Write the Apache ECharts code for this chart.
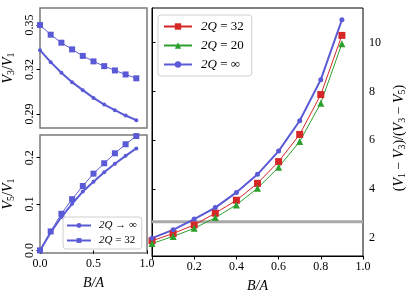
<!DOCTYPE html>
<html><head><meta charset="utf-8">
<script src="https://cdn.jsdelivr.net/npm/echarts@6/dist/echarts.min.js"></script>
<style>html,body{margin:0;padding:0;background:#fff}#c{width:415px;height:298px}</style>
</head><body><div id="c"></div>
<script>
const xs = [0.0, 0.1, 0.2, 0.3, 0.4, 0.5, 0.6, 0.7, 0.8, 0.9];
// main panel: (V1-V3)/(V3-V5)
const ratio32 = [1.89, 2.19, 2.54, 3.02, 3.55, 4.24, 5.13, 6.24, 7.87, 10.29];
const ratio20 = [1.78, 2.07, 2.40, 2.84, 3.36, 4.04, 4.90, 5.95, 7.52, 9.95];
const ratioInf = [2.00, 2.34, 2.78, 3.25, 3.87, 4.61, 5.56, 6.80, 8.48, 10.93];
const refLevel = 2.67;
// top inset: V3/V1
const v3Inf = [0.3331, 0.3250, 0.3178, 0.3115, 0.3061, 0.3009, 0.2964, 0.2926, 0.2890, 0.2859];
const v3Q32 = [0.3500, 0.3435, 0.3381, 0.3336, 0.3292, 0.3255, 0.3223, 0.3194, 0.3167, 0.3141];
// bottom inset: V5/V1
const v5Inf = [0.000, 0.0387, 0.072, 0.1004, 0.127, 0.148, 0.1686, 0.187, 0.204, 0.220];
const v5Q32 = [0.000, 0.041, 0.079, 0.1105, 0.139, 0.1656, 0.188, 0.2095, 0.229, 0.2467];
// ticks
const mainXTicks = [0, 0.2, 0.4, 0.6, 0.8, 1.0];
const mainXLabels = [0.2, 0.4, 0.6, 0.8, 1.0];
const mainYTicks = [2, 4, 6, 8, 10];
const topYTicks = [0.29, 0.32, 0.35];
const botYTicks = [0.0, 0.1, 0.2];
const botXTicks = [0.0, 0.5, 1.0];
const legendMain = {m32: '{i|2Q} = 32', m20: '{i|2Q} = 20', minf: '{i|2Q} = ∞'};
const legendInset = {iinf: '{i|2Q} → ∞', i32: '{i|2Q} = 32'};
const nameV3 = '{v|V}{s|3}{u|/}{v|V}{s|1}';
const nameV5 = '{v|V}{s|5}{u|/}{v|V}{s|1}';
const nameRatio = '{u|(}{v|V}{s|1}{u| − }{v|V}{s|3}{u|)/(}{v|V}{s|3}{u| − }{v|V}{s|5}{u|)}';

const F = 'Liberation Serif';
const pairs = ys => xs.map((x, i) => [x, ys[i]]);
const red = '#d62728', green = '#2ca02c', blue = '#5a5ad6';
const insetBorder = '#7a7a7a';
const nameRich = (fs) => ({
  v: {fontFamily: F, fontSize: fs, fontStyle: 'italic', color: '#000'},
  u: {fontFamily: F, fontSize: fs, color: '#000'},
  s: {fontFamily: F, fontSize: Math.round(fs * 0.7), color: '#000', padding: [6, 0, 0, 0]}
});

const chart = echarts.init(document.getElementById('c'), null, {renderer: 'canvas'});
const tickLbl = {fontFamily: F, fontSize: 12, color: '#000'};
chart.setOption({
  animation: false,
  grid: [
    {left: 152, top: 8, width: 220, height: 249, show: true, borderColor: '#000', borderWidth: 1},
    {left: 40, top: 8, width: 107, height: 120, show: true, borderColor: insetBorder, borderWidth: 1.5},
    {left: 40, top: 135, width: 107, height: 118, show: true, borderColor: insetBorder, borderWidth: 1.5}
  ],
  xAxis: [
    {gridIndex: 0, type: 'value', min: 0, max: 1, interval: 0.2,
     axisLine: {lineStyle: {color: '#000'}}, splitLine: {show: false},
     axisTick: {inside: false, length: 3.5, lineStyle: {color: '#000'}, customValues: mainXTicks},
     axisLabel: Object.assign({margin: 5, formatter: v => v.toFixed(1), customValues: mainXLabels}, tickLbl),
     name: 'B/A', nameLocation: 'middle', nameGap: 23,
     nameTextStyle: {fontFamily: F, fontSize: 14, fontStyle: 'italic', color: '#000'}},
    {gridIndex: 1, type: 'value', min: 0, max: 1, interval: 0.5,
     axisLine: {show: false}, splitLine: {show: false}, axisTick: {show: false}, axisLabel: {show: false}},
    {gridIndex: 2, type: 'value', min: 0, max: 1, interval: 0.5,
     axisLine: {show: false}, splitLine: {show: false},
     axisTick: {length: 3.5, lineStyle: {color: '#000'}, customValues: botXTicks},
     axisLabel: Object.assign({margin: 5, formatter: v => v.toFixed(1), customValues: botXTicks, showMaxLabel: true}, tickLbl),
     name: 'B/A', nameLocation: 'middle', nameGap: 23,
     nameTextStyle: {fontFamily: F, fontSize: 14, fontStyle: 'italic', color: '#000'}}
  ],
  yAxis: [
    {gridIndex: 0, type: 'value', position: 'right', min: 1.27, max: 11.41,
     axisLine: {show: true, lineStyle: {color: '#000'}}, splitLine: {show: false},
     axisTick: {length: 3.5, lineStyle: {color: '#000'}, customValues: mainYTicks},
     axisLabel: Object.assign({margin: 6, customValues: mainYTicks}, tickLbl),
     name: nameRatio, nameLocation: 'middle', nameGap: 28, nameRotate: 90,
     nameTextStyle: {padding: [0, 12, 0, 0], rich: nameRich(14)}},
    {gridIndex: 1, type: 'value', min: 0.2806, max: 0.3615,
     axisLine: {show: false}, splitLine: {show: false},
     axisTick: {length: 3.5, lineStyle: {color: '#000'}, customValues: topYTicks},
     axisLabel: Object.assign({margin: 4, rotate: 90, formatter: v => v.toFixed(2), customValues: topYTicks}, tickLbl),
     name: nameV3, nameLocation: 'middle', nameGap: 24, nameRotate: 90,
     nameTextStyle: {rich: nameRich(14)}},
    {gridIndex: 2, type: 'value', min: -0.0056, max: 0.249,
     axisLine: {show: false}, splitLine: {show: false},
     axisTick: {length: 3.5, lineStyle: {color: '#000'}, customValues: botYTicks},
     axisLabel: Object.assign({margin: 4, rotate: 90, formatter: v => v.toFixed(1), customValues: botYTicks}, tickLbl),
     name: nameV5, nameLocation: 'middle', nameGap: 24, nameRotate: 90,
     nameTextStyle: {rich: nameRich(14)}}
  ],
  legend: [
    {left: 158, top: 15, orient: 'vertical', itemWidth: 28, itemHeight: 8, itemGap: 6,
     padding: [5, 8, 5, 5], backgroundColor: '#fff', borderColor: '#d0d0d0', borderWidth: 1, borderRadius: 3,
     data: ['m32', 'm20', 'minf'], formatter: n => legendMain[n],
     textStyle: {fontFamily: F, fontSize: 13, color: '#000', padding: [0, 0, 0, 4],
                 rich: {i: {fontFamily: F, fontSize: 13, fontStyle: 'italic', color: '#000'}}}},
    {left: 63, top: 217, orient: 'vertical', itemWidth: 24, itemHeight: 6, itemGap: 4,
     padding: [3, 5, 3, 3], backgroundColor: '#fff', borderColor: '#d0d0d0', borderWidth: 1, borderRadius: 3,
     data: ['iinf', 'i32'], formatter: n => legendInset[n],
     textStyle: {fontFamily: F, fontSize: 11, color: '#000', padding: [0, 0, 0, 3],
                 rich: {i: {fontFamily: F, fontSize: 11, fontStyle: 'italic', color: '#000'}}}}
  ],
  series: [
    {type: 'line', name: 'ref', xAxisIndex: 0, yAxisIndex: 0, data: [[0, refLevel], [1, refLevel]],
     symbol: 'none', lineStyle: {color: '#a8a8a8', width: 3}, itemStyle: {color: '#a8a8a8'}, z: 1, silent: true},
    {type: 'line', name: 'm32', xAxisIndex: 0, yAxisIndex: 0, data: pairs(ratio32),
     symbol: 'rect', symbolSize: 7, lineStyle: {color: red, width: 1}, itemStyle: {color: red}, z: 3},
    {type: 'line', name: 'm20', xAxisIndex: 0, yAxisIndex: 0, data: pairs(ratio20),
     symbol: 'triangle', symbolSize: 7, lineStyle: {color: green, width: 1}, itemStyle: {color: green}, z: 3},
    {type: 'line', name: 'minf', xAxisIndex: 0, yAxisIndex: 0, data: pairs(ratioInf),
     symbol: 'circle', symbolSize: 5, lineStyle: {color: blue, width: 2}, itemStyle: {color: blue}, z: 3},
    {type: 'line', name: 'iinf', xAxisIndex: 1, yAxisIndex: 1, data: pairs(v3Inf),
     symbol: 'circle', symbolSize: 4, lineStyle: {color: blue, width: 2}, itemStyle: {color: blue}},
    {type: 'line', name: 'i32', xAxisIndex: 1, yAxisIndex: 1, data: pairs(v3Q32),
     symbol: 'rect', symbolSize: 6, lineStyle: {color: blue, width: 1}, itemStyle: {color: blue}},
    {type: 'line', name: 'iinf', xAxisIndex: 2, yAxisIndex: 2, data: pairs(v5Inf),
     symbol: 'circle', symbolSize: 4, lineStyle: {color: blue, width: 2}, itemStyle: {color: blue}},
    {type: 'line', name: 'i32', xAxisIndex: 2, yAxisIndex: 2, data: pairs(v5Q32),
     symbol: 'rect', symbolSize: 6, lineStyle: {color: blue, width: 1}, itemStyle: {color: blue}}
  ]
});
</script></body></html>
